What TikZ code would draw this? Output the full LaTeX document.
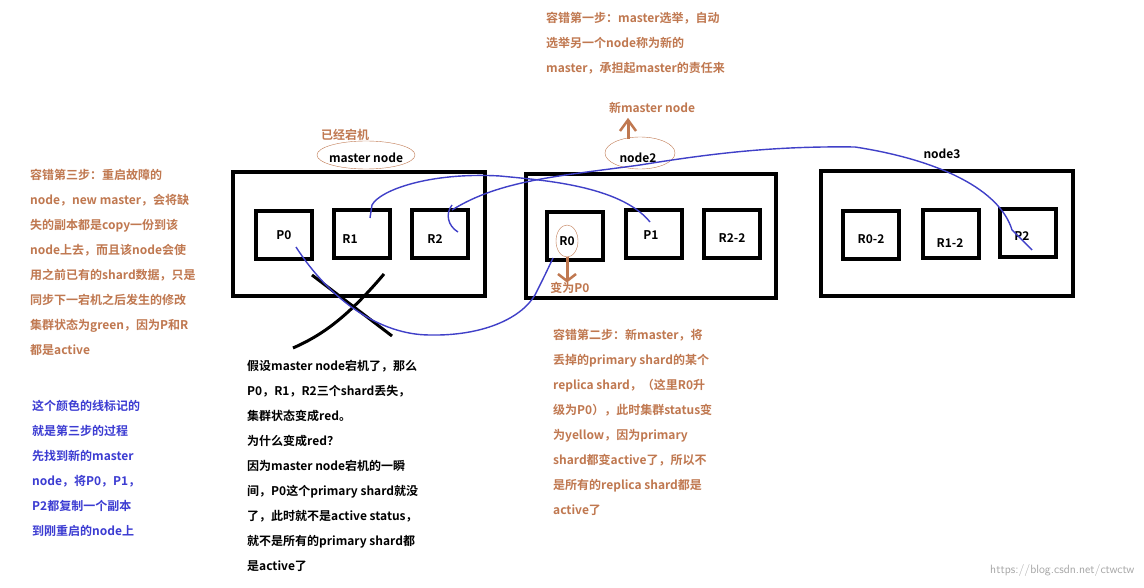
\documentclass[tikz,border=0pt]{standalone}
\usepackage{fontspec}
\setmainfont{Noto Sans CJK SC Bold}
\begin{document}
\begin{tikzpicture}[x=1pt,y=-1pt,
  outer/.style={draw=black,line width=4pt},
  inner/.style={draw=black,line width=4pt,minimum width=56pt,minimum height=48pt,inner sep=0pt},
  lab/.style={font=\fontsize{12}{12}\selectfont},
  txt/.style={anchor=north west,align=left,inner sep=0pt,font=\fontsize{12}{25}\selectfont},
  blueline/.style={draw=lineblue,line width=1.4pt},
  brownarr/.style={draw=brownc,line width=3pt}]
\definecolor{brownc}{RGB}{192,120,80}
\definecolor{lineblue}{RGB}{64,64,200}
\definecolor{textblue}{RGB}{60,60,210}
\useasboundingbox[fill=white] (0,0) rectangle (1144,588);
% boxes
\draw[outer] (233,172) rectangle (485,296);
\draw[outer] (526,174) rectangle (776,298);
\draw[outer] (821,171) rectangle (1073,296);
\node[inner,label={[lab]center:P0}] (p0) at (284,235) {};
\node[inner] (r1) at (362,234) {}; \node[lab] at (350,239) {R1};
\node[inner] (r2) at (440,234) {}; \node[lab] at (435,239) {R2};
\node[inner] (r0) at (575,236) {};
\node[inner] (p1) at (654,234) {}; \node[lab] at (651,235) {P1};
\node[inner] (r22) at (732,234) {}; \node[lab] at (732,238) {R2-2};
\node[inner] (r02) at (871,235) {}; \node[lab] at (871,239) {R0-2};
\node[inner] (r12) at (951,234) {}; \node[lab] at (950,243) {R1-2};
\node[inner] (p2) at (1028,233) {}; \node[lab] at (1022,236) {P2};
\node[lab] (r0t) at (567,241) {R0};
\draw[brownc] (r0t) ellipse (11pt and 16pt);
% labels
\node[lab] (mn) at (366,158) {master node};
\draw[brownc] (366,155) ellipse (49pt and 14pt);
\node[lab,text=brownc] (dj) at (345,135) {已经宕机};
\node[lab] (n2) at (638,158) {node2};
\draw[brownc] (640,153) ellipse (35pt and 16pt);
\node[lab] (n3) at (942,154) {node3};
\node[lab,text=brownc] (nm) at (652,108) {新master node};
\coordinate (a1) at (628,139); \coordinate (a2) at (628,120);
\draw[brownarr] (a1) -- (a2);
\draw[brownc,line width=2.5pt] (620,131) -- (628,120) -- (636,131);
\node[lab,text=brownc] (bw) at (570,288) {变为P0};
\coordinate (b1) at (567,257); \coordinate (b2) at (567,281);
\draw[brownarr] (b1) -- (b2);
\draw[brownc,line width=2.5pt] (558,274) -- (567,281) -- (576,274);
% cross
\draw[black,line width=3pt] (312,275) -- (392,336);
\draw[black,line width=3pt] (293,348) .. controls (320,336) and (345,320) .. (384,274);
% blue curves
\draw[blueline] (296,247) .. controls (330,300) and (380,335) .. (430,335)
  .. controls (480,336) and (520,320) .. (535,295) .. controls (545,275) .. (553,258);
\draw[blueline] (650,222) .. controls (620,185) and (540,180) .. (500,176)
  .. controls (430,172) and (380,190) .. (372,205) -- (370,218);
\draw[blueline] (458,232) .. controls (448,226) and (445,214) .. (452,205);
\draw[blueline] (452,210) .. controls (500,180) and (560,176) .. (640,165)
  .. controls (720,152) and (780,146) .. (855,147) .. controls (940,160) and (1000,190) .. (1012,230) -- (1032,250);
% texts
\node[txt,text=brownc] (t1) at (546,12) {容错第一步：master选举，自动\\选举另一个node称为新的\\master，承担起master的责任来};
\node[txt,text=brownc] (t3) at (30,169) {容错第三步：重启故障的\\node，new master，会将缺\\失的副本都是copy一份到该\\node上去，而且该node会使\\用之前已有的shard数据，只是\\同步下一宕机之后发生的修改\\集群状态为green，因为P和R\\都是active};
\node[txt,text=textblue] (tb) at (32,400) {这个颜色的线标记的\\就是第三步的过程\\先找到新的master\\node，将P0，P1，\\P2都复制一个副本\\到刚重启的node上};
\node[txt,text=black] (tk) at (247,360) {假设master node宕机了，那么\\P0，R1，R2三个shard丢失，\\集群状态变成red。\\为什么变成red？\\因为master node宕机的一瞬\\间，P0这个primary shard就没\\了，此时就不是active status，\\就不是所有的primary shard都\\是active了};
\node[txt,text=brownc] (t2) at (553,329) {容错第二步：新master，将\\丢掉的primary shard的某个\\replica shard，（这里R0升\\级为P0），此时集群status变\\为yellow，因为primary\\shard都变active了，所以不\\是所有的replica shard都是\\active了};
\node[anchor=south east,text=gray!70,font=\fontsize{12}{12}\selectfont\sffamily] (wm) at (1138,580) {https://blog.csdn.net/ctwctw};
\end{tikzpicture}
\end{document}
